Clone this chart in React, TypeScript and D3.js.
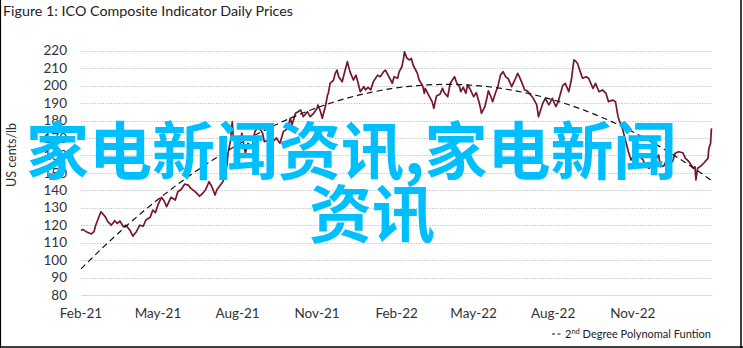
import React from "react";
import * as d3 from "d3";

const W = 743;
const H = 348;

const titleText = "Figure 1: ICO Composite Indicator Daily Prices";
const yAxisTitle = "US cents/lb";
const watermarkLine1 = "家电新闻资讯,家电新闻";
const watermarkLine2 = "资讯";

const yTicks = [80, 90, 100, 110, 120, 130, 140, 150, 160, 170, 180, 190, 200, 210, 220];
const xTickDates = ["2021-02-01", "2021-05-01", "2021-08-01", "2021-11-01", "2022-02-01", "2022-05-01", "2022-08-01", "2022-11-01"];
const xTickLabels = ["Feb-21", "May-21", "Aug-21", "Nov-21", "Feb-22", "May-22", "Aug-22", "Nov-22"];

const dates = [
  "2021-02-01","2021-02-03","2021-02-07","2021-02-13","2021-02-16","2021-02-18","2021-02-24","2021-03-01","2021-03-04","2021-03-08",
  "2021-03-12","2021-03-15","2021-03-18","2021-03-22","2021-03-25","2021-03-30","2021-04-02","2021-04-06","2021-04-10","2021-04-14",
  "2021-04-17","2021-04-22","2021-04-25","2021-04-28","2021-05-01","2021-05-05","2021-05-08","2021-05-11","2021-05-16","2021-05-21",
  "2021-05-24","2021-05-28","2021-06-01","2021-06-05","2021-06-08","2021-06-13","2021-06-18","2021-06-21","2021-06-25","2021-06-29",
  "2021-07-02","2021-07-06","2021-07-08","2021-07-13","2021-07-15","2021-07-18","2021-07-20","2021-07-21","2021-07-24","2021-07-25",
  "2021-07-26","2021-07-27","2021-08-01","2021-08-03","2021-08-06","2021-08-10","2021-08-13","2021-08-18","2021-08-21","2021-08-25",
  "2021-08-30","2021-09-01","2021-09-06","2021-09-09","2021-09-11","2021-09-15","2021-09-19","2021-09-23","2021-09-28","2021-10-01",
  "2021-10-03","2021-10-07","2021-10-10","2021-10-13","2021-10-16","2021-10-21","2021-10-24","2021-10-28","2021-11-01","2021-11-02",
  "2021-11-05","2021-11-07","2021-11-11","2021-11-13","2021-11-14","2021-11-16","2021-11-20","2021-11-22","2021-11-24","2021-11-26",
  "2021-11-30","2021-12-04","2021-12-06","2021-12-09","2021-12-13","2021-12-16","2021-12-19","2021-12-21","2021-12-25","2021-12-27",
  "2021-12-30","2022-01-02","2022-01-05","2022-01-10","2022-01-13","2022-01-17","2022-01-19","2022-01-21","2022-01-24","2022-01-27",
  "2022-01-29","2022-02-02","2022-02-04","2022-02-07","2022-02-09","2022-02-10","2022-02-13","2022-02-16","2022-02-18","2022-02-20",
  "2022-02-25","2022-02-27","2022-03-03","2022-03-05","2022-03-06","2022-03-10","2022-03-14","2022-03-16","2022-03-19","2022-03-23",
  "2022-03-26","2022-03-28","2022-04-01","2022-04-04","2022-04-09","2022-04-11","2022-04-15","2022-04-16","2022-04-19","2022-04-22",
  "2022-04-24","2022-04-27","2022-05-01","2022-05-04","2022-05-07","2022-05-09","2022-05-10","2022-05-14","2022-05-16","2022-05-18",
  "2022-05-21","2022-05-23","2022-05-26","2022-05-29","2022-06-01","2022-06-04","2022-06-07","2022-06-10","2022-06-14","2022-06-17",
  "2022-06-21","2022-06-23","2022-06-27","2022-06-29","2022-07-02","2022-07-06","2022-07-09","2022-07-13","2022-07-15","2022-07-20",
  "2022-07-23","2022-07-27","2022-07-31","2022-08-04","2022-08-07","2022-08-12","2022-08-15","2022-08-19","2022-08-22","2022-08-25",
  "2022-08-27","2022-08-29","2022-09-02","2022-09-04","2022-09-08","2022-09-11","2022-09-16","2022-09-19","2022-09-23","2022-09-27",
  "2022-10-01","2022-10-04","2022-10-09","2022-10-12","2022-10-15","2022-10-17","2022-10-20","2022-10-24","2022-10-27","2022-10-30",
  "2022-11-01","2022-11-05","2022-11-08","2022-11-13","2022-11-16","2022-11-20","2022-11-24","2022-11-28","2022-12-01","2022-12-03",
  "2022-12-07","2022-12-12","2022-12-15","2022-12-17","2022-12-20","2022-12-24","2022-12-29","2023-01-01","2023-01-05","2023-01-10",
  "2023-01-12","2023-01-13","2023-01-15","2023-01-19","2023-01-22","2023-01-27","2023-01-28","2023-01-30","2023-01-31"
];

const prices = [
  117, 117.6, 116.3, 115, 116.3, 120, 127.7, 124.9, 122, 120,
  122.6, 121, 122.4, 119.1, 120, 116.8, 113.8, 116.3, 120, 119.5,
  123, 124.5, 128.7, 127.2, 131.6, 136, 134, 130.6, 136, 134.4,
  139.2, 140.6, 143.6, 143, 141.1, 139.2, 136.7, 137.9, 140.2, 144.9,
  142.5, 137.3, 140.2, 143.6, 144.9, 148.8, 155.5, 161.2, 168.8, 175.5,
  179.3, 170.7, 163, 166.9, 172.7, 161.2, 166.9, 165, 173.6, 176.5,
  172.7, 167.9, 168.8, 172, 167.9, 170, 166.9, 173.6, 175.5, 181.3,
  177.4, 184.1, 185, 186, 182.2, 185, 182.2, 184.1, 187, 188.9,
  185, 181.3, 188.9, 194.6, 195.6, 201.3, 203.2, 207, 208.9, 205.1,
  202.2, 209.9, 213.7, 208, 203.2, 206, 200.3, 196.5, 199.4, 197.5,
  199, 197.5, 202.2, 206, 205.1, 208, 208.9, 207, 204.2, 201.3,
  205.1, 204.2, 208, 210.8, 215.6, 219.4, 215.6, 214.7, 215.6, 211.8,
  207, 203.2, 200, 195.6, 198.4, 194.6, 190.8, 187, 194, 195,
  198.4, 196, 193.6, 201.3, 205.1, 202, 199, 196.5, 199, 195.6,
  200.3, 198, 193.6, 196, 191, 187, 184.1, 188, 192, 197,
  193.6, 190.8, 195.5, 199.4, 206, 208, 205.1, 204, 199.4, 202.5,
  207, 205, 200.3, 197.5, 197, 194.6, 192.7, 189, 182.2, 189.9,
  192.7, 189, 192.7, 188, 191, 200, 201.3, 196.5, 203.2, 214.7,
  214, 212.8, 207, 204.2, 205.1, 204.2, 198.4, 201.3, 196.5, 197.5,
  195.6, 190.8, 191.7, 190.8, 182.2, 179.3, 175.5, 168, 162.1, 157.4,
  159, 155.5, 160.2, 157.4, 153.5, 152.6, 156, 158.3, 160.2, 153.5,
  154, 159.3, 157, 156.4, 161.2, 162.1, 161.5, 158.3, 156.4, 152.6,
  153.5, 145.9, 152.6, 154, 155.5, 158.3, 164, 166.9, 175.5
];

// Points
const trendDates = [
  "2021-02-01","2021-03-27","2021-05-05","2021-06-13","2021-07-25","2021-08-27","2021-10-01","2021-11-08","2021-12-18",
  "2022-02-13","2022-04-12","2022-05-21","2022-07-21","2022-08-29","2022-10-07","2022-11-14","2022-12-23","2023-01-31"
];
const trendValues = [94.5, 120, 136, 149.7, 163, 174.6, 183.1, 189.9, 195, 199.4, 200.8, 199.4, 191.7, 185, 179.3, 168.8, 158.3, 148.8];

const legendLabelSup = "nd";
const legendLabelRest = " Degree Polynomal Funtion";

const parse = d3.timeParse("%Y-%m-%d");

function fitQuadratic(xs: number[], ys: number[]) {
  // least squares: y = a + b x + c x^2
  let s0 = 0, s1 = 0, s2 = 0, s3 = 0, s4 = 0, t0 = 0, t1 = 0, t2 = 0;
  xs.forEach((x, i) => {
    const y = ys[i];
    s0 += 1; s1 += x; s2 += x * x; s3 += x * x * x; s4 += x * x * x * x;
    t0 += y; t1 += x * y; t2 += x * x * y;
  });
  const M = [[s0, s1, s2, t0], [s1, s2, s3, t1], [s2, s3, s4, t2]];
  for (let i = 0; i < 3; i++) {
    let p = i;
    for (let r = i + 1; r < 3; r++) if (Math.abs(M[r][i]) > Math.abs(M[p][i])) p = r;
    [M[i], M[p]] = [M[p], M[i]];
    for (let r = 0; r < 3; r++) {
      if (r === i) continue;
      const f = M[r][i] / M[i][i];
      for (let c = i; c < 4; c++) M[r][c] -= f * M[i][c];
    }
  }
  return [M[0][3] / M[0][0], M[1][3] / M[1][1], M[2][3] / M[2][2]];
}

export default function App() {
  const left = 81;
  const right = 712.3;
  const top = 50.7;
  const bottom = 295;

  const x = d3.scaleTime().domain([parse("2021-02-01")!, parse("2023-02-01")!]).range([left, right]);
  const y = d3.scaleLinear().domain([80, 220]).range([bottom, top]);

  const series = dates.map((d, i) => ({ date: parse(d)!, value: prices[i] }));
  const line = d3.line<{ date: Date; value: number }>().x((d) => x(d.date)).y((d) => y(d.value));

  const t0 = parse("2021-02-01")!.getTime();
  const DAY = 86400000;
  const tx = trendDates.map((d) => (parse(d)!.getTime() - t0) / DAY);
  const [a, b, c] = fitQuadratic(tx, trendValues);
  const endDay = (parse("2023-01-31")!.getTime() - t0) / DAY;
  const trendPts = d3.range(0, endDay + 0.001, endDay / 120).map((t) => ({
    date: new Date(t0 + t * DAY),
    value: a + b * t + c * t * t,
  }));

  const font = "Lato, 'Open Sans', sans-serif";
  const cjk = "'Noto Sans CJK SC', 'Noto Sans CJK JP', sans-serif";

  return (
    <div style={{ position: "absolute", left: 0, top: 0, width: W, height: H, background: "#fff" }}>
      <svg width={W} height={H} style={{ display: "block" }}>
        <rect x={0} y={0} width={W} height={H} fill="#fff" />
        {/* frame */}
        <line x1={0.5} y1={0} x2={0.5} y2={H} stroke="#000" strokeWidth={1.2} />
        <line x1={741} y1={0} x2={741} y2={H} stroke="#000" strokeWidth={1.5} />
        <line x1={0} y1={347} x2={W} y2={347} stroke="#000" strokeWidth={1.5} />

        <text x={3} y={16} fontFamily={font} fontSize={14.3} fill="#222">{titleText}</text>

        {/* gridlines */}
        {yTicks.map((t) => (
          <line
            key={"g" + t}
            x1={left}
            x2={right}
            y1={Math.round(y(t)) + 0.5}
            y2={Math.round(y(t)) + 0.5}
            stroke={t === 80 ? "#d9d9d9" : "#c6c6c6"}
            strokeWidth={1}
            strokeDasharray={t === 80 ? undefined : "1.4,1.3"}
          />
        ))}
        {yTicks.map((t) => (
          <text key={"yl" + t} x={67} y={y(t)} dy="0.35em" textAnchor="end" fontFamily={font} fontSize={13.5} fill="#333">
            {t}
          </text>
        ))}
        <text
          transform={`translate(16,155) rotate(-90)`}
          textAnchor="middle"
          fontFamily={font}
          fontSize={12.5}
          fill="#333"
        >
          {yAxisTitle}
        </text>
        {xTickDates.map((d, i) => (
          <text key={"xl" + d} x={x(parse(d)!)} y={318} textAnchor="middle" fontFamily={font} fontSize={13.5} fill="#333">
            {xTickLabels[i]}
          </text>
        ))}

        {/* price line */}
        <path d={line(series) || ""} fill="none" stroke="#76162f" strokeWidth={1.7} strokeLinejoin="round" />
        {/* trend */}
        <path d={line(trendPts) || ""} fill="none" stroke="#111" strokeWidth={1.2} strokeDasharray="6,4" />

        {/* legend */}
        <line x1={552} x2={562} y1={334} y2={334} stroke="#111" strokeWidth={1.2} strokeDasharray="3,2.5" />
        <text x={565} y={337.5} fontFamily={font} fontSize={11} fill="#222">
          2<tspan fontSize={7.5} dy={-4}>{legendLabelSup}</tspan>
          <tspan dy={4}>{legendLabelRest}</tspan>
        </text>

        {/* watermark */}
        <text x={26} y={174} fontFamily={cjk} fontWeight={700} fontSize={63} fill="#00bfff">
          {watermarkLine1}
        </text>
        <text x={309} y={237} fontFamily={cjk} fontWeight={700} fontSize={63} fill="#00bfff">
          {watermarkLine2}
        </text>
      </svg>
    </div>
  );
}
